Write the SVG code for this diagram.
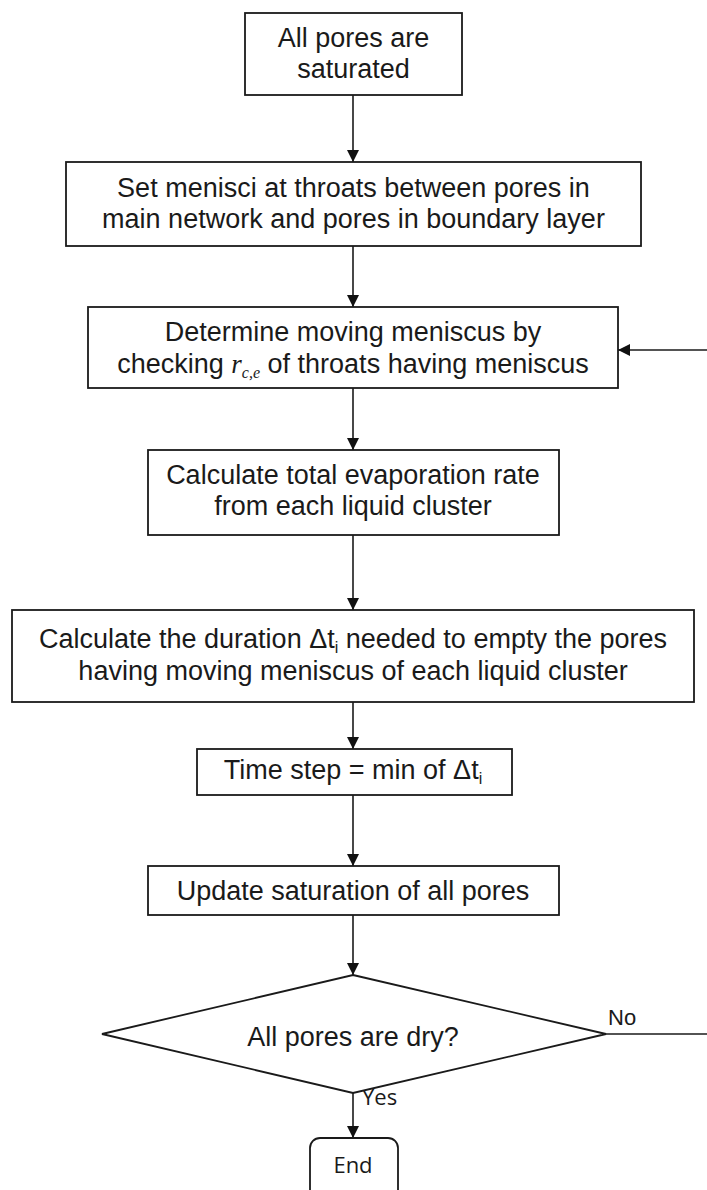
<svg xmlns="http://www.w3.org/2000/svg" width="707" height="1190" viewBox="0 0 707 1190">
<style>
.box{fill:#fff;stroke:#1a1a1a;stroke-width:1.8}
.t{font-family:"Liberation Sans",Arial,sans-serif;font-size:27px;fill:#1a1a1a;text-anchor:middle}
.s{font-family:"Open Sans","Noto Sans",sans-serif;font-size:22px;fill:#1a1a1a}
.c{stroke:#1a1a1a;stroke-width:1.6;fill:none}
</style>
<defs>
<marker id="ah" markerWidth="12" markerHeight="12" viewBox="0 0 12 12" refX="12" refY="6" orient="auto" markerUnits="userSpaceOnUse">
<path d="M0,0 L12,6 L0,12 z" fill="#111"/>
</marker>
</defs>
<rect width="707" height="1190" fill="#fff"/>
<g id="connectors">
<line class="c" x1="353" y1="95" x2="353" y2="162" marker-end="url(#ah)"/>
<line class="c" x1="353" y1="246" x2="353" y2="307" marker-end="url(#ah)"/>
<line class="c" x1="707" y1="350" x2="618" y2="350" marker-end="url(#ah)"/>
<line class="c" x1="353" y1="388" x2="353" y2="450" marker-end="url(#ah)"/>
<line class="c" x1="353" y1="535" x2="353" y2="610" marker-end="url(#ah)"/>
<line class="c" x1="353" y1="702" x2="353" y2="749" marker-end="url(#ah)"/>
<line class="c" x1="353" y1="795" x2="353" y2="866" marker-end="url(#ah)"/>
<line class="c" x1="353" y1="915" x2="353" y2="975" marker-end="url(#ah)"/>
<line class="c" x1="606" y1="1034" x2="707" y2="1034"/>
<line class="c" x1="353" y1="1093" x2="353" y2="1138" marker-end="url(#ah)"/>
<text x="608" y="1025" style="font-family:'Liberation Sans',Arial,sans-serif;font-size:22px;fill:#1a1a1a">No</text>
<text class="s" x="362" y="1105">Yes</text>
</g>
<g id="n1">
<rect class="box" x="245" y="13" width="217" height="82"/>
<text class="t" x="353.5" y="47">All pores are</text>
<text class="t" x="353.5" y="78">saturated</text>
</g>
<g id="n2">
<rect class="box" x="66" y="162" width="575" height="84"/>
<text class="t" x="353.5" y="197">Set menisci at throats between pores in</text>
<text class="t" x="353.5" y="228">main network and pores in boundary layer</text>
</g>
<g id="n3">
<rect class="box" x="88" y="307" width="530" height="81"/>
<text class="t" x="353" y="341">Determine moving meniscus by</text>
<text class="t" x="353" y="373">checking <tspan style="font-family:'Liberation Serif',serif;font-style:italic">r</tspan><tspan style="font-family:'Liberation Serif',serif;font-style:italic;font-size:16px" dy="5">c,e</tspan><tspan dy="-5"> of throats having meniscus</tspan></text>
</g>
<g id="n4">
<rect class="box" x="148" y="450" width="411" height="85"/>
<text class="t" x="353" y="484">Calculate total evaporation rate</text>
<text class="t" x="353" y="515">from each liquid cluster</text>
</g>
<g id="n5">
<rect class="box" x="12" y="610" width="682" height="92"/>
<text class="t" x="353" y="648">Calculate the duration Δt<tspan font-size="16" dy="5">i</tspan><tspan dy="-5"> needed to empty the pores</tspan></text>
<text class="t" x="353" y="680">having moving meniscus of each liquid cluster</text>
</g>
<g id="n6">
<rect class="box" x="197" y="749" width="315" height="46"/>
<text class="t" x="353" y="779">Time step = min of Δt<tspan font-size="16" dy="5">i</tspan></text>
</g>
<g id="n7">
<rect class="box" x="148" y="866" width="411" height="49"/>
<text class="t" x="353" y="900">Update saturation of all pores</text>
</g>
<g id="n8">
<polygon class="box" points="353,975 606,1034 353,1093 102,1034"/>
<text class="t" x="353" y="1046">All pores are dry?</text>
</g>
<g id="n9">
<rect class="box" x="310" y="1138" width="88" height="70" rx="10"/>
<text class="s" x="353" y="1173" text-anchor="middle">End</text>
</g>
</svg>
